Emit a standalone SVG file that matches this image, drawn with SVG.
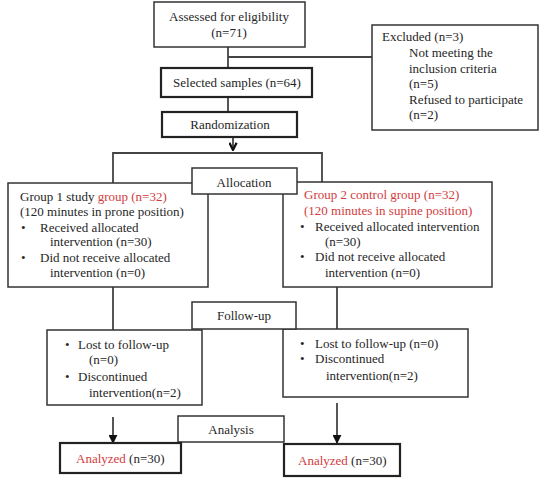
<svg xmlns="http://www.w3.org/2000/svg" width="543" height="489" viewBox="0 0 543 489" font-family="'Liberation Serif', 'Times New Roman', serif">
<style>
text{font-family:'Liberation Serif','Times New Roman',Times,serif;font-size:13px;fill:#262626}
.c{text-anchor:middle}
.r{fill:#d23c3e}
.b{fill:#fff;stroke:#333;stroke-width:1.5}
.t{fill:#fff;stroke:#222;stroke-width:2.2}
.l{stroke:#444;stroke-width:1.8;fill:none}
</style>
<defs>
<marker id="ah" viewBox="0 0 10 10" refX="9" refY="5" markerWidth="5" markerHeight="5" orient="auto"><path d="M0,0 L10,5 L0,10 z" fill="#111"/></marker>
<marker id="av" viewBox="0 0 10 10" refX="9" refY="5" markerWidth="5" markerHeight="5" orient="auto"><path d="M1,1 L9,5 L1,9" fill="none" stroke="#111" stroke-width="2.5"/></marker>
</defs>
<g id="connectors">
<path class="l" d="M228,47 V68 M228,57 H372 M228,97 V112"/>
<path class="l" d="M233,138 V150" marker-end="url(#av)"/>
<path class="l" d="M113,183 V153 H322 V182"/>
<path class="l" d="M113,287 V330 M337,287 V329"/>
<path class="l" d="M113,417 V443" marker-end="url(#ah)"/>
<path class="l" d="M337,403 V443" marker-end="url(#ah)"/>
</g>
<g id="assessed"><rect class="b" x="154" y="2" width="151" height="45"/><text class="c" x="229" y="21">Assessed for eligibility</text><text class="c" x="229" y="37">(n=71)</text></g>
<g id="excluded"><rect class="b" x="372" y="25" width="166" height="105"/>
<text x="382" y="41">Excluded (n=3)</text><text x="409" y="57">Not meeting the</text><text x="409" y="73">inclusion criteria</text><text x="409" y="88">(n=5)</text><text x="409" y="104">Refused to participate</text><text x="409" y="119">(n=2)</text></g>
<g id="selected"><rect class="t" x="161" y="68" width="151" height="29"/><text class="c" x="237" y="87">Selected samples (n=64)</text></g>
<g id="randomization"><rect class="t" x="162" y="112" width="135" height="25"/><text class="c" x="230" y="129">Randomization</text></g>
<g id="group1"><rect class="b" x="8" y="183" width="200" height="104"/>
<text x="20" y="201">Group 1 study <tspan class="r">group (n=32)</tspan></text>
<text x="20" y="216">(120 minutes in prone position)</text>
<text x="21" y="232">•</text><text x="40" y="232">Received allocated</text>
<text x="50" y="246">intervention (n=30)</text>
<text x="21" y="262">•</text><text x="40" y="262">Did not receive allocated</text>
<text x="50" y="277">intervention (n=0)</text></g>
<g id="group2"><rect class="b" x="283" y="182" width="209" height="105"/>
<text class="r" x="304" y="199">Group 2 control group (n=32)</text>
<text class="r" x="304" y="215">(120 minutes in supine position)</text>
<text x="300" y="231">•</text><text x="315" y="231">Received allocated intervention</text>
<text x="325" y="246">(n=30)</text>
<text x="300" y="261">•</text><text x="315" y="261">Did not receive allocated</text>
<text x="325" y="277">intervention (n=0)</text></g>
<g id="allocation"><rect class="b" x="192" y="168" width="105" height="26"/><text class="c" x="244" y="187">Allocation</text></g>
<g id="lost1"><rect class="b" x="47" y="330" width="155" height="75"/>
<text x="65" y="349">•</text><text x="78" y="349">Lost to follow-up</text>
<text x="89" y="364">(n=0)</text>
<text x="65" y="381">•</text><text x="78" y="381">Discontinued</text>
<text x="89" y="397">intervention(n=2)</text></g>
<g id="lost2"><rect class="b" x="283" y="329" width="185" height="68"/>
<text x="300" y="348">•</text><text x="315" y="348">Lost to follow-up (n=0)</text>
<text x="300" y="363">•</text><text x="315" y="363">Discontinued</text>
<text x="326" y="380">intervention(n=2)</text></g>
<g id="followup"><rect class="b" x="192" y="302" width="104" height="27"/><text class="c" x="244" y="320">Follow-up</text></g>
<g id="analysis"><rect class="b" x="178" y="416" width="106" height="26"/><text class="c" x="231" y="434">Analysis</text></g>
<g id="analyzed1"><rect class="t" x="60" y="443" width="121" height="30"/><text x="76" y="463"><tspan class="r">Analyzed</tspan> (n=30)</text></g>
<g id="analyzed2"><rect class="t" x="284" y="444" width="116" height="32"/><text x="298" y="465"><tspan class="r">Analyzed</tspan> (n=30)</text></g>
</svg>
